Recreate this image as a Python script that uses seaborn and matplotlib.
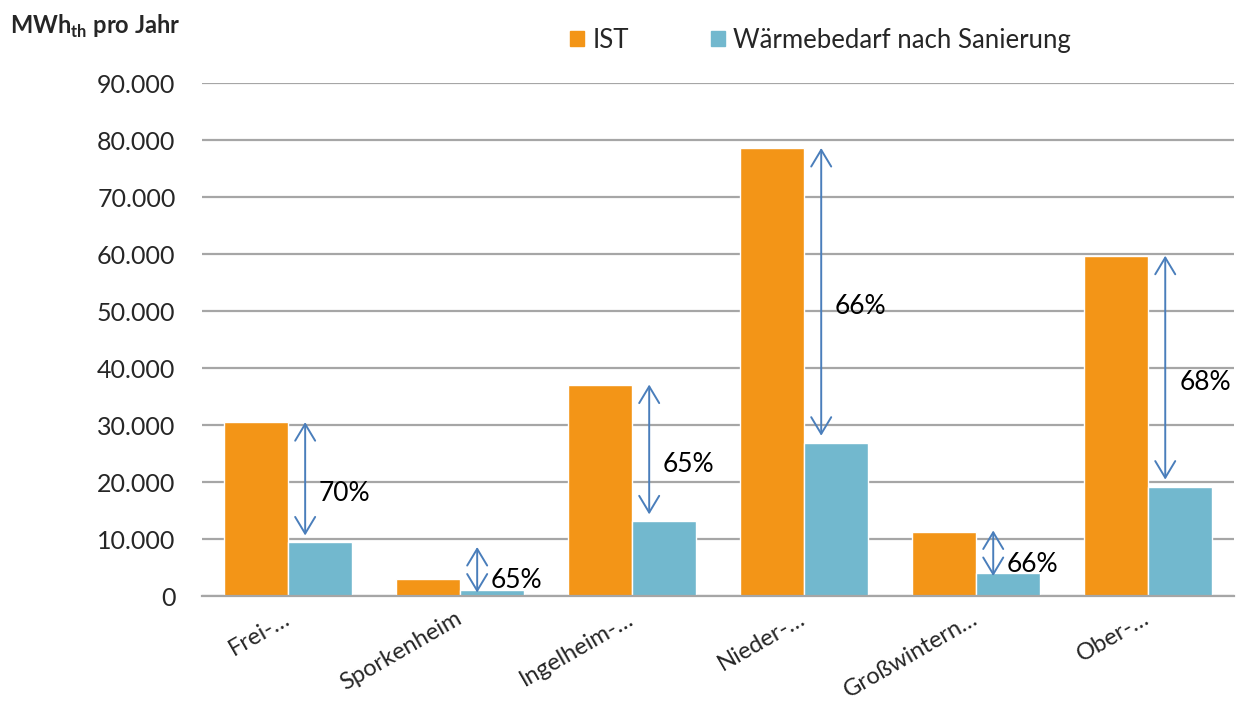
import matplotlib
matplotlib.use("Agg")
import matplotlib.pyplot as plt
import matplotlib.ticker as mticker
from matplotlib.patches import Patch
import pandas as pd
import seaborn as sns

# data (MWh_th per year)
ORTE = ["Frei-…", "Sporkenheim", "Ingelheim-…", "Nieder-…", "Großwintern…", "Ober-…"]
IST = [30500, 2900, 37100, 78600, 11300, 59700]
SANIERT = [9400, 1100, 13100, 26900, 4000, 19200]
EINSPARUNG = ["70%", "65%", "65%", "66%", "66%", "68%"]
SERIEN = ["IST", "Wärmebedarf nach Sanierung"]

ORANGE = "#F39517"
BLAU = "#72B8CE"
PFEIL = "#4A7EBB"
GRID = "#A6A6A6"
MIN_PFEIL = 7500   # very small differences get a longer arrow (as in the original)

sns.set_theme(style="white")
plt.rcParams["font.family"] = ["Lato", "DejaVu Sans"]
plt.rcParams["mathtext.fontset"] = "custom"
plt.rcParams["mathtext.bf"] = "Lato:bold"
plt.rcParams["mathtext.rm"] = "Lato"

df = pd.DataFrame({
    "Ort": ORTE * 2,
    "Wert": IST + SANIERT,
    "Serie": [SERIEN[0]] * len(ORTE) + [SERIEN[1]] * len(ORTE),
})

fig = plt.figure(figsize=(12.42, 7.04), dpi=100)
ax = fig.add_axes([0.1626, 0.1534, 0.8310, 0.7287])

sns.barplot(data=df, x="Ort", y="Wert", hue="Serie", order=ORTE,
            hue_order=SERIEN, palette=[ORANGE, BLAU], width=0.744,
            saturation=1, gap=0, legend=False, ax=ax)

ax.set_ylim(0, 90000)
ax.set_xlim(-0.5, len(ORTE) - 0.5)
ax.yaxis.set_major_locator(mticker.MultipleLocator(10000))
ax.yaxis.set_major_formatter(
    mticker.FuncFormatter(lambda v, _: f"{int(v):,}".replace(",", ".")))
ax.grid(axis="y", color=GRID, lw=1.6)
ax.set_axisbelow(True)
for s in ["top", "right", "left"]:
    ax.spines[s].set_visible(False)
ax.spines["bottom"].set_color(GRID)
ax.spines["bottom"].set_linewidth(1.6)
ax.tick_params(axis="both", length=0)
ax.tick_params(axis="y", labelsize=18, pad=19)
ax.set_xlabel("")
ax.set_ylabel("")
plt.setp(ax.get_xticklabels(), rotation=30, ha="right", va="center",
         rotation_mode="anchor", fontsize=17)
ax.tick_params(axis="x", pad=15)

# double arrows showing the reduction
for i, (a, b, txt) in enumerate(zip(IST, SANIERT, EINSPARUNG)):
    x = i + 0.1
    lang = a - b > MIN_PFEIL
    oben = a if lang else b + MIN_PFEIL
    unten = b if lang else b - 500
    ax.annotate("", xy=(x, unten), xytext=(x, oben),
                arrowprops=dict(arrowstyle="<->,head_length=0.5,head_width=0.3",
                                color=PFEIL, lw=1.4, mutation_scale=24,
                                shrinkA=0, shrinkB=5 if lang else 0))
    ax.annotate(txt, xy=(x, (oben + unten) / 2), xytext=(10, -8),
                textcoords="offset points", ha="left", va="center",
                fontsize=19, color="black")

fig.text(0.008, 0.962, r"MWh$_{\mathbf{th}}$ pro Jahr", fontsize=17,
         fontweight="bold", ha="left", va="center")

handles = [Patch(color=ORANGE), Patch(color=BLAU)]
fig.legend(handles, SERIEN, loc="center left", bbox_to_anchor=(0.459, 0.943),
           ncol=2, frameon=False, fontsize=18.5, handlelength=0.55,
           handleheight=0.55, handletextpad=0.31, columnspacing=3.2,
           borderpad=0, borderaxespad=0)

fig.savefig("out.png", dpi=100)
